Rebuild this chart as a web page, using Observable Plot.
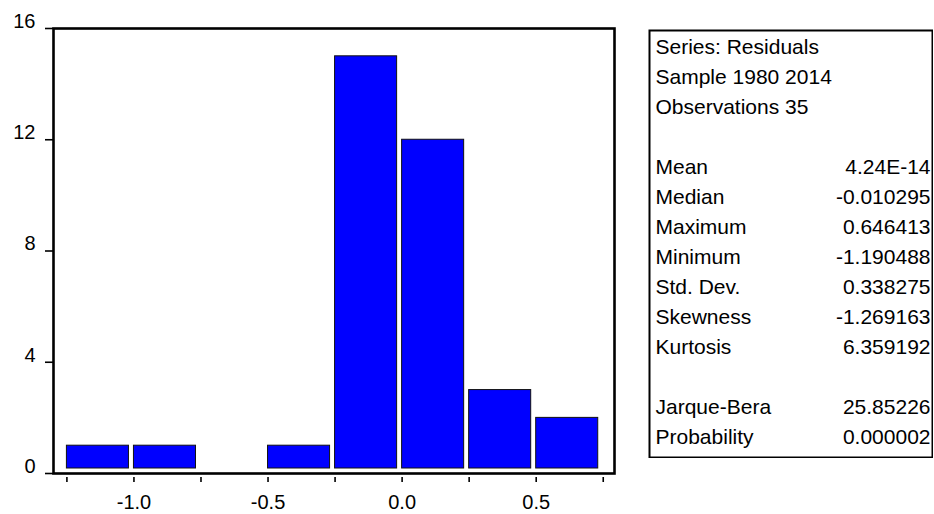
<!DOCTYPE html>
<html>
<head>
<meta charset="utf-8">
<script src="https://cdn.jsdelivr.net/npm/d3@7"></script>
<script src="https://cdn.jsdelivr.net/npm/@observablehq/plot@0.6"></script>
<style>
  html, body { margin: 0; padding: 0; background: #fff; }
  #wrap { position: relative; width: 934px; height: 514px; overflow: hidden; }
  #stats { position: absolute; left: 648px; top: 29px; }
</style>
</head>
<body>
<div id="wrap"><div id="main"></div><div id="stats"></div></div>
<script>
// Histogram of residuals
const binStart = [-1.25, -1.0, -0.75, -0.5, -0.25, 0.0, 0.25, 0.5];
const binEnd   = [-1.0, -0.75, -0.5, -0.25, 0.0, 0.25, 0.5, 0.75];
const counts   = [1, 1, 0, 1, 15, 12, 3, 2];

const yTickValues  = [0, 4, 8, 12, 16];
const xTickValues  = [-1.25, -1.0, -0.75, -0.5, -0.25, 0.0, 0.25, 0.5, 0.75];
const xLabelValues = [-1.0, -0.5, 0.0, 0.5];

// Statistics panel
const statLabels = ["Series: Residuals", "Sample 1980 2014", "Observations 35",
  "Mean", "Median", "Maximum", "Minimum", "Std. Dev.", "Skewness", "Kurtosis",
  "Jarque-Bera", "Probability"];
const statValues = ["", "", "",
  "4.24E-14", "-0.010295", "0.646413", "-1.190488", "0.338275", "-1.269163", "6.359192",
  "25.85226", "0.000002"];
const statRows = [0, 1, 2, 4, 5, 6, 7, 8, 9, 10, 12, 13];

const bins = binStart.map((s, i) => ({x1: s, x2: binEnd[i], count: counts[i]}));
const stats = statLabels.map((l, i) => ({label: l, value: statValues[i], row: statRows[i]}));

const font = "'Liberation Sans', Arial, Helvetica, sans-serif";

const main = Plot.plot({
  width: 934,
  height: 514,
  marginLeft: 53,
  marginRight: 320,
  marginTop: 28,
  marginBottom: 41,
  style: {fontFamily: font, background: "white", color: "black"},
  x: {domain: [-1.3, 0.792], label: null},
  y: {domain: [0, 16], label: null},
  marks: [
    Plot.rectY(bins.filter(d => d.count > 0), {
      x1: "x1", x2: "x2", y: "count",
      fill: "#0000FF", stroke: "#111", strokeWidth: 1,
      insetRight: 5, insetBottom: 5, insetLeft: 0
    }),
    Plot.frame({stroke: "black", strokeWidth: 2.6}),
    Plot.axisY(yTickValues, {tickSize: 8, fill: "none", strokeWidth: 1.6, label: null}),
    Plot.axisY(yTickValues, {tickSize: 8, tickPadding: 10, stroke: "none", dy: -7, fontSize: 20, label: null, tickFormat: d => String(d)}),
    Plot.axisX(xTickValues, {tickSize: 5, dy: 4, fill: "none", strokeWidth: 1.6, label: null}),
    Plot.axisX(xLabelValues, {tickSize: 0, tickPadding: 21, stroke: "none", fontSize: 20, label: null, tickFormat: d => d.toFixed(1)})
  ]
});
document.getElementById("main").appendChild(main);

const statsPlot = Plot.plot({
  width: 285,
  height: 429,
  margin: 0,
  style: {fontFamily: font, background: "white", color: "black"},
  y: {domain: [-0.6, 13.7], reverse: true, axis: null},
  marks: [
    Plot.text(stats, {y: "row", text: "label", frameAnchor: "left", textAnchor: "start", dx: 7, fontSize: 21}),
    Plot.text(stats, {y: "row", text: "value", frameAnchor: "right", textAnchor: "end", dx: -3, fontSize: 21}),
    Plot.frame({stroke: "black", strokeWidth: 2, inset: 1})
  ]
});
document.getElementById("stats").appendChild(statsPlot);
</script>
</body>
</html>
